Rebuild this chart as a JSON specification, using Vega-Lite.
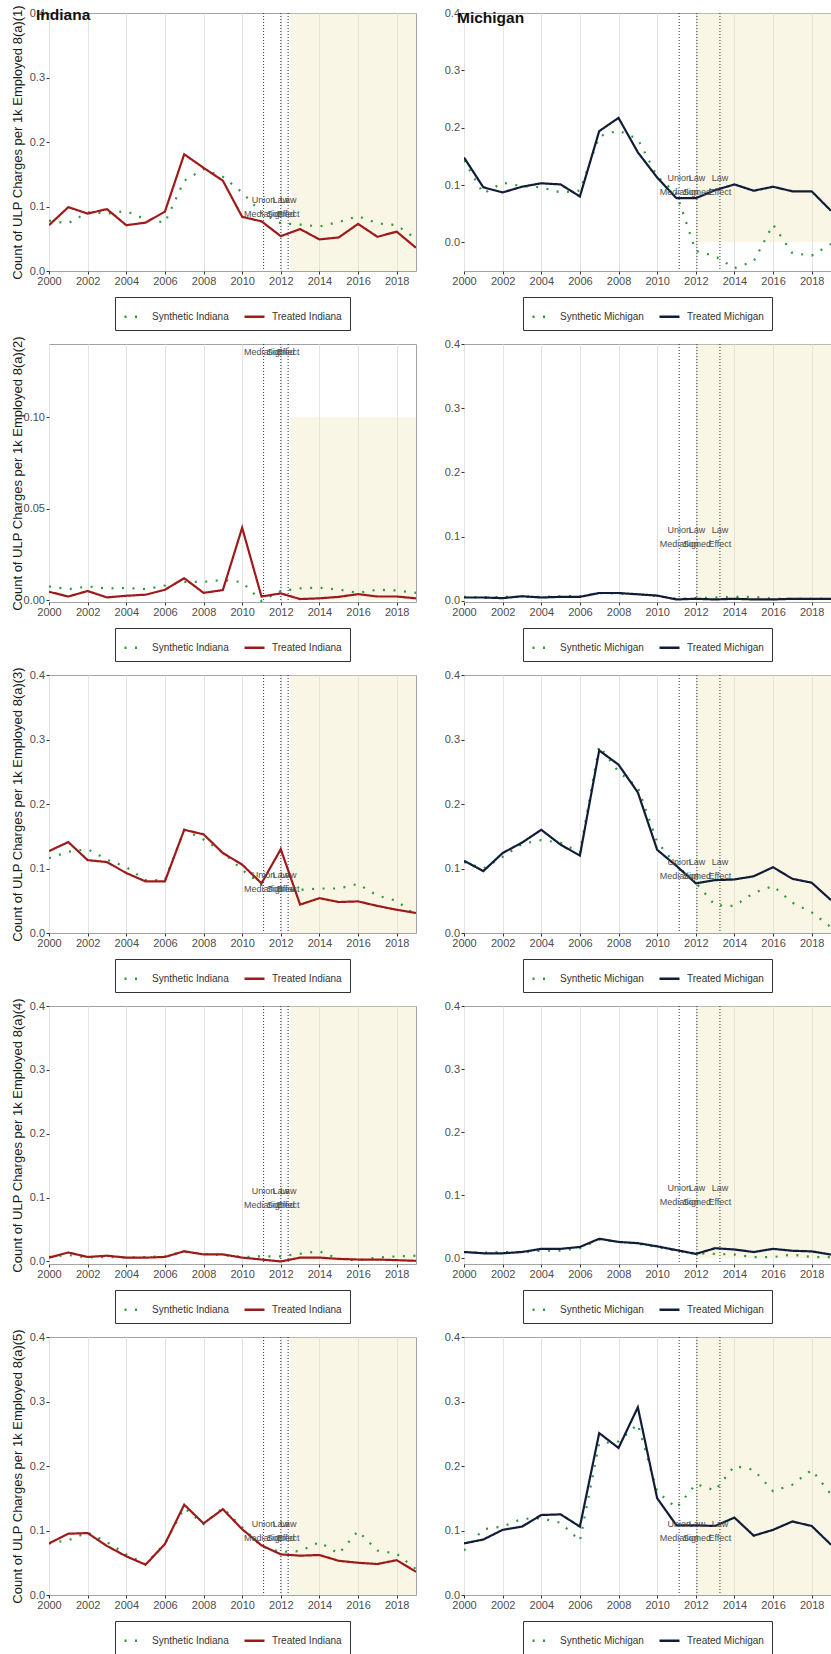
{
  "$schema": "https://vega.github.io/schema/vega-lite/v6.json",
  "background": "white",
  "padding": {"left": 10, "top": 4, "right": 0, "bottom": 0},
  "datasets": {
    "sh": [
      {"st": "Indiana", "x1": 2012.5, "x2": 2019},
      {"st": "Michigan", "x1": 2012.06, "x2": 2019}
    ],
    "ev": [
      {"st": "Indiana", "yr": 2011.11, "lab": "Union\nMediation"},
      {"st": "Indiana", "yr": 2012.0, "lab": "Law\nSigned"},
      {"st": "Indiana", "yr": 2012.38, "lab": "Law\nEffect"},
      {"st": "Michigan", "yr": 2011.14, "lab": "Union\nMediation"},
      {"st": "Michigan", "yr": 2012.06, "lab": "Law\nSigned"},
      {"st": "Michigan", "yr": 2013.25, "lab": "Law\nEffect"}
    ],
    "ts": [
      {"p": "IN1", "yr": 2000, "syn": 0.078, "trt": 0.071},
      {"p": "IN1", "yr": 2001, "syn": 0.074, "trt": 0.099},
      {"p": "IN1", "yr": 2002, "syn": 0.091, "trt": 0.089},
      {"p": "IN1", "yr": 2003, "syn": 0.089, "trt": 0.096},
      {"p": "IN1", "yr": 2004, "syn": 0.093, "trt": 0.071},
      {"p": "IN1", "yr": 2005, "syn": 0.080, "trt": 0.075},
      {"p": "IN1", "yr": 2006, "syn": 0.075, "trt": 0.092},
      {"p": "IN1", "yr": 2007, "syn": 0.140, "trt": 0.181},
      {"p": "IN1", "yr": 2008, "syn": 0.158, "trt": 0.160},
      {"p": "IN1", "yr": 2009, "syn": 0.146, "trt": 0.140},
      {"p": "IN1", "yr": 2010, "syn": 0.122, "trt": 0.084},
      {"p": "IN1", "yr": 2011, "syn": 0.090, "trt": 0.077},
      {"p": "IN1", "yr": 2012, "syn": 0.074, "trt": 0.054},
      {"p": "IN1", "yr": 2013, "syn": 0.072, "trt": 0.065},
      {"p": "IN1", "yr": 2014, "syn": 0.069, "trt": 0.049},
      {"p": "IN1", "yr": 2015, "syn": 0.076, "trt": 0.052},
      {"p": "IN1", "yr": 2016, "syn": 0.085, "trt": 0.073},
      {"p": "IN1", "yr": 2017, "syn": 0.074, "trt": 0.053},
      {"p": "IN1", "yr": 2018, "syn": 0.071, "trt": 0.061},
      {"p": "IN1", "yr": 2019, "syn": 0.050, "trt": 0.036},

      {"p": "MI1", "yr": 2000, "syn": 0.143, "trt": 0.148},
      {"p": "MI1", "yr": 2001, "syn": 0.085, "trt": 0.096},
      {"p": "MI1", "yr": 2002, "syn": 0.104, "trt": 0.087},
      {"p": "MI1", "yr": 2003, "syn": 0.098, "trt": 0.097},
      {"p": "MI1", "yr": 2004, "syn": 0.096, "trt": 0.103},
      {"p": "MI1", "yr": 2005, "syn": 0.087, "trt": 0.101},
      {"p": "MI1", "yr": 2006, "syn": 0.090, "trt": 0.080},
      {"p": "MI1", "yr": 2007, "syn": 0.185, "trt": 0.194},
      {"p": "MI1", "yr": 2008, "syn": 0.195, "trt": 0.217},
      {"p": "MI1", "yr": 2009, "syn": 0.180, "trt": 0.157},
      {"p": "MI1", "yr": 2010, "syn": 0.115, "trt": 0.113},
      {"p": "MI1", "yr": 2011, "syn": 0.085, "trt": 0.077},
      {"p": "MI1", "yr": 2012, "syn": -0.015, "trt": 0.077},
      {"p": "MI1", "yr": 2013, "syn": -0.024, "trt": 0.091},
      {"p": "MI1", "yr": 2014, "syn": -0.045, "trt": 0.101},
      {"p": "MI1", "yr": 2015, "syn": -0.033, "trt": 0.090},
      {"p": "MI1", "yr": 2016, "syn": 0.031, "trt": 0.097},
      {"p": "MI1", "yr": 2017, "syn": -0.019, "trt": 0.089},
      {"p": "MI1", "yr": 2018, "syn": -0.023, "trt": 0.089},
      {"p": "MI1", "yr": 2019, "syn": -0.003, "trt": 0.055},

      {"p": "IN2", "yr": 2000, "syn": 0.0075, "trt": 0.0046},
      {"p": "IN2", "yr": 2001, "syn": 0.0060, "trt": 0.0020},
      {"p": "IN2", "yr": 2002, "syn": 0.0075, "trt": 0.0050},
      {"p": "IN2", "yr": 2003, "syn": 0.0064, "trt": 0.0015},
      {"p": "IN2", "yr": 2004, "syn": 0.0067, "trt": 0.0024},
      {"p": "IN2", "yr": 2005, "syn": 0.0060, "trt": 0.0030},
      {"p": "IN2", "yr": 2006, "syn": 0.0080, "trt": 0.0057},
      {"p": "IN2", "yr": 2007, "syn": 0.0100, "trt": 0.0120},
      {"p": "IN2", "yr": 2008, "syn": 0.0100, "trt": 0.0040},
      {"p": "IN2", "yr": 2009, "syn": 0.0110, "trt": 0.0055},
      {"p": "IN2", "yr": 2010, "syn": 0.0099, "trt": 0.0396},
      {"p": "IN2", "yr": 2011, "syn": -0.0005, "trt": 0.0020},
      {"p": "IN2", "yr": 2012, "syn": 0.0050, "trt": 0.0037},
      {"p": "IN2", "yr": 2013, "syn": 0.0065, "trt": 0.0006},
      {"p": "IN2", "yr": 2014, "syn": 0.0068, "trt": 0.0010},
      {"p": "IN2", "yr": 2015, "syn": 0.0058, "trt": 0.0018},
      {"p": "IN2", "yr": 2016, "syn": 0.0040, "trt": 0.0033},
      {"p": "IN2", "yr": 2017, "syn": 0.0057, "trt": 0.0020},
      {"p": "IN2", "yr": 2018, "syn": 0.0053, "trt": 0.0020},
      {"p": "IN2", "yr": 2019, "syn": 0.0040, "trt": 0.0010},

      {"p": "MI2", "yr": 2000, "syn": 0.006, "trt": 0.005},
      {"p": "MI2", "yr": 2001, "syn": 0.005, "trt": 0.005},
      {"p": "MI2", "yr": 2002, "syn": 0.006, "trt": 0.004},
      {"p": "MI2", "yr": 2003, "syn": 0.006, "trt": 0.007},
      {"p": "MI2", "yr": 2004, "syn": 0.006, "trt": 0.005},
      {"p": "MI2", "yr": 2005, "syn": 0.007, "trt": 0.006},
      {"p": "MI2", "yr": 2006, "syn": 0.007, "trt": 0.006},
      {"p": "MI2", "yr": 2007, "syn": 0.012, "trt": 0.012},
      {"p": "MI2", "yr": 2008, "syn": 0.011, "trt": 0.012},
      {"p": "MI2", "yr": 2009, "syn": 0.010, "trt": 0.010},
      {"p": "MI2", "yr": 2010, "syn": 0.007, "trt": 0.008},
      {"p": "MI2", "yr": 2011, "syn": 0.003, "trt": 0.002},
      {"p": "MI2", "yr": 2012, "syn": 0.004, "trt": 0.003},
      {"p": "MI2", "yr": 2013, "syn": 0.005, "trt": 0.002},
      {"p": "MI2", "yr": 2014, "syn": 0.006, "trt": 0.003},
      {"p": "MI2", "yr": 2015, "syn": 0.006, "trt": 0.002},
      {"p": "MI2", "yr": 2016, "syn": 0.003, "trt": 0.002},
      {"p": "MI2", "yr": 2017, "syn": 0.003, "trt": 0.003},
      {"p": "MI2", "yr": 2018, "syn": 0.003, "trt": 0.003},
      {"p": "MI2", "yr": 2019, "syn": 0.003, "trt": 0.003},

      {"p": "IN3", "yr": 2000, "syn": 0.116, "trt": 0.127},
      {"p": "IN3", "yr": 2001, "syn": 0.126, "trt": 0.141},
      {"p": "IN3", "yr": 2002, "syn": 0.130, "trt": 0.113},
      {"p": "IN3", "yr": 2003, "syn": 0.114, "trt": 0.110},
      {"p": "IN3", "yr": 2004, "syn": 0.102, "trt": 0.093},
      {"p": "IN3", "yr": 2005, "syn": 0.082, "trt": 0.080},
      {"p": "IN3", "yr": 2006, "syn": 0.082, "trt": 0.080},
      {"p": "IN3", "yr": 2007, "syn": 0.160, "trt": 0.160},
      {"p": "IN3", "yr": 2008, "syn": 0.145, "trt": 0.153},
      {"p": "IN3", "yr": 2009, "syn": 0.125, "trt": 0.124},
      {"p": "IN3", "yr": 2010, "syn": 0.098, "trt": 0.106},
      {"p": "IN3", "yr": 2011, "syn": 0.075, "trt": 0.077},
      {"p": "IN3", "yr": 2012, "syn": 0.067, "trt": 0.130},
      {"p": "IN3", "yr": 2013, "syn": 0.067, "trt": 0.044},
      {"p": "IN3", "yr": 2014, "syn": 0.069, "trt": 0.054},
      {"p": "IN3", "yr": 2015, "syn": 0.069, "trt": 0.048},
      {"p": "IN3", "yr": 2016, "syn": 0.076, "trt": 0.049},
      {"p": "IN3", "yr": 2017, "syn": 0.058, "trt": 0.042},
      {"p": "IN3", "yr": 2018, "syn": 0.050, "trt": 0.036},
      {"p": "IN3", "yr": 2019, "syn": 0.027, "trt": 0.031},

      {"p": "MI3", "yr": 2000, "syn": 0.110, "trt": 0.112},
      {"p": "MI3", "yr": 2001, "syn": 0.100, "trt": 0.096},
      {"p": "MI3", "yr": 2002, "syn": 0.118, "trt": 0.124},
      {"p": "MI3", "yr": 2003, "syn": 0.138, "trt": 0.140},
      {"p": "MI3", "yr": 2004, "syn": 0.144, "trt": 0.160},
      {"p": "MI3", "yr": 2005, "syn": 0.140, "trt": 0.137},
      {"p": "MI3", "yr": 2006, "syn": 0.125, "trt": 0.120},
      {"p": "MI3", "yr": 2007, "syn": 0.290, "trt": 0.283},
      {"p": "MI3", "yr": 2008, "syn": 0.250, "trt": 0.261},
      {"p": "MI3", "yr": 2009, "syn": 0.226, "trt": 0.218},
      {"p": "MI3", "yr": 2010, "syn": 0.141, "trt": 0.129},
      {"p": "MI3", "yr": 2011, "syn": 0.105, "trt": 0.104},
      {"p": "MI3", "yr": 2012, "syn": 0.078, "trt": 0.077},
      {"p": "MI3", "yr": 2013, "syn": 0.043, "trt": 0.082},
      {"p": "MI3", "yr": 2014, "syn": 0.042, "trt": 0.083},
      {"p": "MI3", "yr": 2015, "syn": 0.062, "trt": 0.088},
      {"p": "MI3", "yr": 2016, "syn": 0.073, "trt": 0.102},
      {"p": "MI3", "yr": 2017, "syn": 0.047, "trt": 0.084},
      {"p": "MI3", "yr": 2018, "syn": 0.032, "trt": 0.078},
      {"p": "MI3", "yr": 2019, "syn": 0.009, "trt": 0.051},

      {"p": "IN4", "yr": 2000, "syn": 0.007, "trt": 0.006},
      {"p": "IN4", "yr": 2001, "syn": 0.010, "trt": 0.014},
      {"p": "IN4", "yr": 2002, "syn": 0.006, "trt": 0.007},
      {"p": "IN4", "yr": 2003, "syn": 0.007, "trt": 0.009},
      {"p": "IN4", "yr": 2004, "syn": 0.006, "trt": 0.006},
      {"p": "IN4", "yr": 2005, "syn": 0.007, "trt": 0.006},
      {"p": "IN4", "yr": 2006, "syn": 0.008, "trt": 0.007},
      {"p": "IN4", "yr": 2007, "syn": 0.015, "trt": 0.016},
      {"p": "IN4", "yr": 2008, "syn": 0.012, "trt": 0.011},
      {"p": "IN4", "yr": 2009, "syn": 0.010, "trt": 0.011},
      {"p": "IN4", "yr": 2010, "syn": 0.007, "trt": 0.006},
      {"p": "IN4", "yr": 2011, "syn": 0.008, "trt": 0.003},
      {"p": "IN4", "yr": 2012, "syn": 0.008, "trt": 0.000},
      {"p": "IN4", "yr": 2013, "syn": 0.012, "trt": 0.006},
      {"p": "IN4", "yr": 2014, "syn": 0.016, "trt": 0.006},
      {"p": "IN4", "yr": 2015, "syn": 0.004, "trt": 0.004},
      {"p": "IN4", "yr": 2016, "syn": 0.002, "trt": 0.003},
      {"p": "IN4", "yr": 2017, "syn": 0.006, "trt": 0.003},
      {"p": "IN4", "yr": 2018, "syn": 0.008, "trt": 0.002},
      {"p": "IN4", "yr": 2019, "syn": 0.009, "trt": 0.001},

      {"p": "MI4", "yr": 2000, "syn": 0.010, "trt": 0.010},
      {"p": "MI4", "yr": 2001, "syn": 0.009, "trt": 0.008},
      {"p": "MI4", "yr": 2002, "syn": 0.010, "trt": 0.008},
      {"p": "MI4", "yr": 2003, "syn": 0.010, "trt": 0.010},
      {"p": "MI4", "yr": 2004, "syn": 0.012, "trt": 0.015},
      {"p": "MI4", "yr": 2005, "syn": 0.012, "trt": 0.015},
      {"p": "MI4", "yr": 2006, "syn": 0.016, "trt": 0.018},
      {"p": "MI4", "yr": 2007, "syn": 0.030, "trt": 0.031},
      {"p": "MI4", "yr": 2008, "syn": 0.026, "trt": 0.026},
      {"p": "MI4", "yr": 2009, "syn": 0.023, "trt": 0.024},
      {"p": "MI4", "yr": 2010, "syn": 0.018, "trt": 0.019},
      {"p": "MI4", "yr": 2011, "syn": 0.012, "trt": 0.013},
      {"p": "MI4", "yr": 2012, "syn": 0.008, "trt": 0.007},
      {"p": "MI4", "yr": 2013, "syn": 0.007, "trt": 0.016},
      {"p": "MI4", "yr": 2014, "syn": 0.006, "trt": 0.014},
      {"p": "MI4", "yr": 2015, "syn": 0.002, "trt": 0.010},
      {"p": "MI4", "yr": 2016, "syn": 0.002, "trt": 0.015},
      {"p": "MI4", "yr": 2017, "syn": 0.006, "trt": 0.012},
      {"p": "MI4", "yr": 2018, "syn": 0.002, "trt": 0.011},
      {"p": "MI4", "yr": 2019, "syn": 0.002, "trt": 0.006},

      {"p": "IN5", "yr": 2000, "syn": 0.080, "trt": 0.080},
      {"p": "IN5", "yr": 2001, "syn": 0.085, "trt": 0.095},
      {"p": "IN5", "yr": 2002, "syn": 0.097, "trt": 0.096},
      {"p": "IN5", "yr": 2003, "syn": 0.082, "trt": 0.076},
      {"p": "IN5", "yr": 2004, "syn": 0.063, "trt": 0.060},
      {"p": "IN5", "yr": 2005, "syn": 0.048, "trt": 0.047},
      {"p": "IN5", "yr": 2006, "syn": 0.080, "trt": 0.079},
      {"p": "IN5", "yr": 2007, "syn": 0.135, "trt": 0.140},
      {"p": "IN5", "yr": 2008, "syn": 0.110, "trt": 0.111},
      {"p": "IN5", "yr": 2009, "syn": 0.135, "trt": 0.133},
      {"p": "IN5", "yr": 2010, "syn": 0.105, "trt": 0.102},
      {"p": "IN5", "yr": 2011, "syn": 0.075, "trt": 0.077},
      {"p": "IN5", "yr": 2012, "syn": 0.067, "trt": 0.063},
      {"p": "IN5", "yr": 2013, "syn": 0.068, "trt": 0.061},
      {"p": "IN5", "yr": 2014, "syn": 0.082, "trt": 0.062},
      {"p": "IN5", "yr": 2015, "syn": 0.064, "trt": 0.053},
      {"p": "IN5", "yr": 2016, "syn": 0.099, "trt": 0.050},
      {"p": "IN5", "yr": 2017, "syn": 0.069, "trt": 0.048},
      {"p": "IN5", "yr": 2018, "syn": 0.064, "trt": 0.054},
      {"p": "IN5", "yr": 2019, "syn": 0.040, "trt": 0.036},

      {"p": "MI5", "yr": 2000, "syn": 0.069, "trt": 0.080},
      {"p": "MI5", "yr": 2001, "syn": 0.102, "trt": 0.086},
      {"p": "MI5", "yr": 2002, "syn": 0.106, "trt": 0.101},
      {"p": "MI5", "yr": 2003, "syn": 0.118, "trt": 0.106},
      {"p": "MI5", "yr": 2004, "syn": 0.119, "trt": 0.124},
      {"p": "MI5", "yr": 2005, "syn": 0.112, "trt": 0.125},
      {"p": "MI5", "yr": 2006, "syn": 0.084, "trt": 0.106},
      {"p": "MI5", "yr": 2007, "syn": 0.235, "trt": 0.251},
      {"p": "MI5", "yr": 2008, "syn": 0.238, "trt": 0.228},
      {"p": "MI5", "yr": 2009, "syn": 0.265, "trt": 0.291},
      {"p": "MI5", "yr": 2010, "syn": 0.160, "trt": 0.150},
      {"p": "MI5", "yr": 2011, "syn": 0.135, "trt": 0.108},
      {"p": "MI5", "yr": 2012, "syn": 0.172, "trt": 0.108},
      {"p": "MI5", "yr": 2013, "syn": 0.162, "trt": 0.107},
      {"p": "MI5", "yr": 2014, "syn": 0.200, "trt": 0.120},
      {"p": "MI5", "yr": 2015, "syn": 0.194, "trt": 0.092},
      {"p": "MI5", "yr": 2016, "syn": 0.161, "trt": 0.101},
      {"p": "MI5", "yr": 2017, "syn": 0.171, "trt": 0.114},
      {"p": "MI5", "yr": 2018, "syn": 0.194, "trt": 0.107},
      {"p": "MI5", "yr": 2019, "syn": 0.156, "trt": 0.078}
    ]
  },
  "columns": 2,
  "spacing": {"row": 73, "column": 48},
  "bounds": "flush",
  "resolve": {
    "scale": {"x": "independent", "y": "independent", "color": "independent", "strokeDash": "independent"},
    "axis": {"x": "independent", "y": "independent"},
    "legend": {"color": "independent", "strokeDash": "independent"}
  },
  "concat": [
    {
      "width": 367, "height": 258,
      "title": {"text": "Indiana", "anchor": "start", "frame": "group", "offset": -19, "dx": -13, "fontSize": 15.5, "fontWeight": "bold", "color": "#111111"},
      "layer": [
        {"data": {"name": "sh"}, "transform": [{"filter": "datum.st == 'Indiana'"}], "mark": {"type": "rect", "color": "#f0e6b4", "opacity": 0.35}, "encoding": {"x": {"field": "x1", "type": "quantitative"}, "x2": {"field": "x2"}, "y": {"datum": 0}, "y2": {"datum": 0.4}}},
        {"data": {"name": "ev"}, "transform": [{"filter": "datum.st == 'Indiana'"}], "mark": {"type": "rule", "strokeDash": [1, 2], "color": "#333333", "strokeWidth": 1}, "encoding": {"x": {"field": "yr", "type": "quantitative"}}},
        {"data": {"name": "ts"}, "transform": [{"filter": "datum.p == 'IN1'"}, {"fold": ["syn", "trt"], "as": ["s", "v"]}], "mark": {"type": "line", "strokeWidth": 2.2, "clip": true},
          "encoding": {
            "x": {"field": "yr", "type": "quantitative", "scale": {"domain": [2000, 2019], "nice": false, "zero": false}, "axis": {"title": null, "values": [2000,2001,2002,2003,2004,2005,2006,2007,2008,2009,2010,2011,2012,2013,2014,2015,2016,2017,2018,2019], "format": "d", "labelExpr": "datum.value % 2 == 0 ? datum.label : ''", "gridColor": {"condition": {"test": "datum.value % 2 == 0", "value": "#e3e3e3"}, "value": "#f2f2f2"}, "tickOpacity": {"condition": {"test": "datum.value % 2 == 0", "value": 1}, "value": 0}}},
            "y": {"field": "v", "type": "quantitative", "scale": {"domain": [0, 0.4], "nice": false, "zero": false}, "axis": {"title": "Count of ULP Charges per 1k Employed 8(a)(1)", "values": [0,0.05,0.1,0.15,0.2,0.25,0.3,0.35,0.4], "labelExpr": "abs(datum.value*10 - round(datum.value*10)) < 0.001 ? format(datum.value, '.1f') : ''", "gridColor": {"condition": {"test": "abs(datum.value*10 - round(datum.value*10)) < 0.001", "value": "#e3e3e3"}, "value": "#f2f2f2"}, "tickOpacity": {"condition": {"test": "abs(datum.value*10 - round(datum.value*10)) < 0.001", "value": 1}, "value": 0}}},
            "color": {"field": "s", "type": "nominal", "scale": {"domain": ["syn", "trt"], "range": ["#2f9a3a", "#9e1a1a"]}, "legend": {"title": null, "labelExpr": "datum.label == 'syn' ? 'Synthetic Indiana' : 'Treated Indiana'"}},
            "strokeDash": {"field": "s", "type": "nominal", "scale": {"domain": ["syn", "trt"], "range": [[2, 8.5], [1, 0]]}, "legend": {"title": null, "labelExpr": "datum.label == 'syn' ? 'Synthetic Indiana' : 'Treated Indiana'"}}
          }},
        {"data": {"name": "ev"}, "transform": [{"filter": "datum.st == 'Indiana'"}], "mark": {"type": "text", "lineBreak": "\n", "fontSize": 9, "color": "#4d4d4d", "lineHeight": 14, "dy": -7, "clip": true}, "encoding": {"x": {"field": "yr", "type": "quantitative"}, "y": {"datum": 0.1}, "text": {"field": "lab"}}}
      ]
    },
    {
      "width": 367, "height": 258,
      "title": {"text": "Michigan", "anchor": "start", "frame": "group", "offset": -19, "dx": -7, "fontSize": 15.5, "fontWeight": "bold", "color": "#111111"},
      "layer": [
        {"data": {"name": "sh"}, "transform": [{"filter": "datum.st == 'Michigan'"}], "mark": {"type": "rect", "color": "#f0e6b4", "opacity": 0.35}, "encoding": {"x": {"field": "x1", "type": "quantitative"}, "x2": {"field": "x2"}, "y": {"datum": 0}, "y2": {"datum": 0.4}}},
        {"data": {"name": "ev"}, "transform": [{"filter": "datum.st == 'Michigan'"}], "mark": {"type": "rule", "strokeDash": [1, 2], "color": "#333333", "strokeWidth": 1}, "encoding": {"x": {"field": "yr", "type": "quantitative"}}},
        {"data": {"name": "ts"}, "transform": [{"filter": "datum.p == 'MI1'"}, {"fold": ["syn", "trt"], "as": ["s", "v"]}], "mark": {"type": "line", "strokeWidth": 2.2, "clip": true},
          "encoding": {
            "x": {"field": "yr", "type": "quantitative", "scale": {"domain": [2000, 2019], "nice": false, "zero": false}, "axis": {"title": null, "values": [2000,2001,2002,2003,2004,2005,2006,2007,2008,2009,2010,2011,2012,2013,2014,2015,2016,2017,2018,2019], "format": "d", "labelExpr": "datum.value % 2 == 0 ? datum.label : ''", "gridColor": {"condition": {"test": "datum.value % 2 == 0", "value": "#e3e3e3"}, "value": "#f2f2f2"}, "tickOpacity": {"condition": {"test": "datum.value % 2 == 0", "value": 1}, "value": 0}}},
            "y": {"field": "v", "type": "quantitative", "scale": {"domain": [-0.05, 0.4], "nice": false, "zero": false}, "axis": {"title": null, "values": [0,0.05,0.1,0.15,0.2,0.25,0.3,0.35,0.4], "labelExpr": "abs(datum.value*10 - round(datum.value*10)) < 0.001 ? format(datum.value, '.1f') : ''", "gridColor": {"condition": {"test": "abs(datum.value*10 - round(datum.value*10)) < 0.001", "value": "#e3e3e3"}, "value": "#f2f2f2"}, "tickOpacity": {"condition": {"test": "abs(datum.value*10 - round(datum.value*10)) < 0.001", "value": 1}, "value": 0}}},
            "color": {"field": "s", "type": "nominal", "scale": {"domain": ["syn", "trt"], "range": ["#2f9a3a", "#101c38"]}, "legend": {"title": null, "labelExpr": "datum.label == 'syn' ? 'Synthetic Michigan' : 'Treated Michigan'"}},
            "strokeDash": {"field": "s", "type": "nominal", "scale": {"domain": ["syn", "trt"], "range": [[2, 8.5], [1, 0]]}, "legend": {"title": null, "labelExpr": "datum.label == 'syn' ? 'Synthetic Michigan' : 'Treated Michigan'"}}
          }},
        {"data": {"name": "ev"}, "transform": [{"filter": "datum.st == 'Michigan'"}], "mark": {"type": "text", "lineBreak": "\n", "fontSize": 9, "color": "#4d4d4d", "lineHeight": 14, "dy": -7, "clip": true}, "encoding": {"x": {"field": "yr", "type": "quantitative"}, "y": {"datum": 0.1}, "text": {"field": "lab"}}}
      ]
    },
    {
      "width": 367, "height": 258,
      "layer": [
        {"data": {"name": "sh"}, "transform": [{"filter": "datum.st == 'Indiana'"}], "mark": {"type": "rect", "color": "#f0e6b4", "opacity": 0.35}, "encoding": {"x": {"field": "x1", "type": "quantitative"}, "x2": {"field": "x2"}, "y": {"datum": 0}, "y2": {"datum": 0.1}}},
        {"data": {"name": "ev"}, "transform": [{"filter": "datum.st == 'Indiana'"}], "mark": {"type": "rule", "strokeDash": [1, 2], "color": "#333333", "strokeWidth": 1}, "encoding": {"x": {"field": "yr", "type": "quantitative"}}},
        {"data": {"name": "ts"}, "transform": [{"filter": "datum.p == 'IN2'"}, {"fold": ["syn", "trt"], "as": ["s", "v"]}], "mark": {"type": "line", "strokeWidth": 2.2, "clip": true},
          "encoding": {
            "x": {"field": "yr", "type": "quantitative", "scale": {"domain": [2000, 2019], "nice": false, "zero": false}, "axis": {"title": null, "values": [2000,2001,2002,2003,2004,2005,2006,2007,2008,2009,2010,2011,2012,2013,2014,2015,2016,2017,2018,2019], "format": "d", "labelExpr": "datum.value % 2 == 0 ? datum.label : ''", "gridColor": {"condition": {"test": "datum.value % 2 == 0", "value": "#e3e3e3"}, "value": "#f2f2f2"}, "tickOpacity": {"condition": {"test": "datum.value % 2 == 0", "value": 1}, "value": 0}}},
            "y": {"field": "v", "type": "quantitative", "scale": {"domain": [-0.001, 0.14], "nice": false, "zero": false}, "axis": {"title": "Count of ULP Charges per 1k Employed 8(a)(2)", "values": [0,0.025,0.05,0.075,0.1,0.125], "labelExpr": "abs(datum.value*20 - round(datum.value*20)) < 0.001 ? format(datum.value, '.2f') : ''", "gridColor": {"condition": {"test": "abs(datum.value*20 - round(datum.value*20)) < 0.001", "value": "#e3e3e3"}, "value": "#f2f2f2"}, "tickOpacity": {"condition": {"test": "abs(datum.value*20 - round(datum.value*20)) < 0.001", "value": 1}, "value": 0}}},
            "color": {"field": "s", "type": "nominal", "scale": {"domain": ["syn", "trt"], "range": ["#2f9a3a", "#9e1a1a"]}, "legend": {"title": null, "labelExpr": "datum.label == 'syn' ? 'Synthetic Indiana' : 'Treated Indiana'"}},
            "strokeDash": {"field": "s", "type": "nominal", "scale": {"domain": ["syn", "trt"], "range": [[2, 8.5], [1, 0]]}, "legend": {"title": null, "labelExpr": "datum.label == 'syn' ? 'Synthetic Indiana' : 'Treated Indiana'"}}
          }},
        {"data": {"name": "ev"}, "transform": [{"filter": "datum.st == 'Indiana'"}], "mark": {"type": "text", "lineBreak": "\n", "fontSize": 9, "color": "#4d4d4d", "lineHeight": 14, "dy": -7, "clip": true}, "encoding": {"x": {"field": "yr", "type": "quantitative"}, "y": {"datum": 0.1395}, "text": {"field": "lab"}}}
      ]
    },
    {
      "width": 367, "height": 258,
      "layer": [
        {"data": {"name": "sh"}, "transform": [{"filter": "datum.st == 'Michigan'"}], "mark": {"type": "rect", "color": "#f0e6b4", "opacity": 0.35}, "encoding": {"x": {"field": "x1", "type": "quantitative"}, "x2": {"field": "x2"}, "y": {"datum": 0}, "y2": {"datum": 0.4}}},
        {"data": {"name": "ev"}, "transform": [{"filter": "datum.st == 'Michigan'"}], "mark": {"type": "rule", "strokeDash": [1, 2], "color": "#333333", "strokeWidth": 1}, "encoding": {"x": {"field": "yr", "type": "quantitative"}}},
        {"data": {"name": "ts"}, "transform": [{"filter": "datum.p == 'MI2'"}, {"fold": ["syn", "trt"], "as": ["s", "v"]}], "mark": {"type": "line", "strokeWidth": 2.2, "clip": true},
          "encoding": {
            "x": {"field": "yr", "type": "quantitative", "scale": {"domain": [2000, 2019], "nice": false, "zero": false}, "axis": {"title": null, "values": [2000,2001,2002,2003,2004,2005,2006,2007,2008,2009,2010,2011,2012,2013,2014,2015,2016,2017,2018,2019], "format": "d", "labelExpr": "datum.value % 2 == 0 ? datum.label : ''", "gridColor": {"condition": {"test": "datum.value % 2 == 0", "value": "#e3e3e3"}, "value": "#f2f2f2"}, "tickOpacity": {"condition": {"test": "datum.value % 2 == 0", "value": 1}, "value": 0}}},
            "y": {"field": "v", "type": "quantitative", "scale": {"domain": [-0.002, 0.4], "nice": false, "zero": false}, "axis": {"title": null, "values": [0,0.05,0.1,0.15,0.2,0.25,0.3,0.35,0.4], "labelExpr": "abs(datum.value*10 - round(datum.value*10)) < 0.001 ? format(datum.value, '.1f') : ''", "gridColor": {"condition": {"test": "abs(datum.value*10 - round(datum.value*10)) < 0.001", "value": "#e3e3e3"}, "value": "#f2f2f2"}, "tickOpacity": {"condition": {"test": "abs(datum.value*10 - round(datum.value*10)) < 0.001", "value": 1}, "value": 0}}},
            "color": {"field": "s", "type": "nominal", "scale": {"domain": ["syn", "trt"], "range": ["#2f9a3a", "#101c38"]}, "legend": {"title": null, "labelExpr": "datum.label == 'syn' ? 'Synthetic Michigan' : 'Treated Michigan'"}},
            "strokeDash": {"field": "s", "type": "nominal", "scale": {"domain": ["syn", "trt"], "range": [[2, 8.5], [1, 0]]}, "legend": {"title": null, "labelExpr": "datum.label == 'syn' ? 'Synthetic Michigan' : 'Treated Michigan'"}}
          }},
        {"data": {"name": "ev"}, "transform": [{"filter": "datum.st == 'Michigan'"}], "mark": {"type": "text", "lineBreak": "\n", "fontSize": 9, "color": "#4d4d4d", "lineHeight": 14, "dy": -7, "clip": true}, "encoding": {"x": {"field": "yr", "type": "quantitative"}, "y": {"datum": 0.1}, "text": {"field": "lab"}}}
      ]
    },
    {
      "width": 367, "height": 258,
      "layer": [
        {"data": {"name": "sh"}, "transform": [{"filter": "datum.st == 'Indiana'"}], "mark": {"type": "rect", "color": "#f0e6b4", "opacity": 0.35}, "encoding": {"x": {"field": "x1", "type": "quantitative"}, "x2": {"field": "x2"}, "y": {"datum": 0}, "y2": {"datum": 0.4}}},
        {"data": {"name": "ev"}, "transform": [{"filter": "datum.st == 'Indiana'"}], "mark": {"type": "rule", "strokeDash": [1, 2], "color": "#333333", "strokeWidth": 1}, "encoding": {"x": {"field": "yr", "type": "quantitative"}}},
        {"data": {"name": "ts"}, "transform": [{"filter": "datum.p == 'IN3'"}, {"fold": ["syn", "trt"], "as": ["s", "v"]}], "mark": {"type": "line", "strokeWidth": 2.2, "clip": true},
          "encoding": {
            "x": {"field": "yr", "type": "quantitative", "scale": {"domain": [2000, 2019], "nice": false, "zero": false}, "axis": {"title": null, "values": [2000,2001,2002,2003,2004,2005,2006,2007,2008,2009,2010,2011,2012,2013,2014,2015,2016,2017,2018,2019], "format": "d", "labelExpr": "datum.value % 2 == 0 ? datum.label : ''", "gridColor": {"condition": {"test": "datum.value % 2 == 0", "value": "#e3e3e3"}, "value": "#f2f2f2"}, "tickOpacity": {"condition": {"test": "datum.value % 2 == 0", "value": 1}, "value": 0}}},
            "y": {"field": "v", "type": "quantitative", "scale": {"domain": [0, 0.4], "nice": false, "zero": false}, "axis": {"title": "Count of ULP Charges per 1k Employed 8(a)(3)", "values": [0,0.05,0.1,0.15,0.2,0.25,0.3,0.35,0.4], "labelExpr": "abs(datum.value*10 - round(datum.value*10)) < 0.001 ? format(datum.value, '.1f') : ''", "gridColor": {"condition": {"test": "abs(datum.value*10 - round(datum.value*10)) < 0.001", "value": "#e3e3e3"}, "value": "#f2f2f2"}, "tickOpacity": {"condition": {"test": "abs(datum.value*10 - round(datum.value*10)) < 0.001", "value": 1}, "value": 0}}},
            "color": {"field": "s", "type": "nominal", "scale": {"domain": ["syn", "trt"], "range": ["#2f9a3a", "#9e1a1a"]}, "legend": {"title": null, "labelExpr": "datum.label == 'syn' ? 'Synthetic Indiana' : 'Treated Indiana'"}},
            "strokeDash": {"field": "s", "type": "nominal", "scale": {"domain": ["syn", "trt"], "range": [[2, 8.5], [1, 0]]}, "legend": {"title": null, "labelExpr": "datum.label == 'syn' ? 'Synthetic Indiana' : 'Treated Indiana'"}}
          }},
        {"data": {"name": "ev"}, "transform": [{"filter": "datum.st == 'Indiana'"}], "mark": {"type": "text", "lineBreak": "\n", "fontSize": 9, "color": "#4d4d4d", "lineHeight": 14, "dy": -7, "clip": true}, "encoding": {"x": {"field": "yr", "type": "quantitative"}, "y": {"datum": 0.079}, "text": {"field": "lab"}}}
      ]
    },
    {
      "width": 367, "height": 258,
      "layer": [
        {"data": {"name": "sh"}, "transform": [{"filter": "datum.st == 'Michigan'"}], "mark": {"type": "rect", "color": "#f0e6b4", "opacity": 0.35}, "encoding": {"x": {"field": "x1", "type": "quantitative"}, "x2": {"field": "x2"}, "y": {"datum": 0}, "y2": {"datum": 0.4}}},
        {"data": {"name": "ev"}, "transform": [{"filter": "datum.st == 'Michigan'"}], "mark": {"type": "rule", "strokeDash": [1, 2], "color": "#333333", "strokeWidth": 1}, "encoding": {"x": {"field": "yr", "type": "quantitative"}}},
        {"data": {"name": "ts"}, "transform": [{"filter": "datum.p == 'MI3'"}, {"fold": ["syn", "trt"], "as": ["s", "v"]}], "mark": {"type": "line", "strokeWidth": 2.2, "clip": true},
          "encoding": {
            "x": {"field": "yr", "type": "quantitative", "scale": {"domain": [2000, 2019], "nice": false, "zero": false}, "axis": {"title": null, "values": [2000,2001,2002,2003,2004,2005,2006,2007,2008,2009,2010,2011,2012,2013,2014,2015,2016,2017,2018,2019], "format": "d", "labelExpr": "datum.value % 2 == 0 ? datum.label : ''", "gridColor": {"condition": {"test": "datum.value % 2 == 0", "value": "#e3e3e3"}, "value": "#f2f2f2"}, "tickOpacity": {"condition": {"test": "datum.value % 2 == 0", "value": 1}, "value": 0}}},
            "y": {"field": "v", "type": "quantitative", "scale": {"domain": [0, 0.4], "nice": false, "zero": false}, "axis": {"title": null, "values": [0,0.05,0.1,0.15,0.2,0.25,0.3,0.35,0.4], "labelExpr": "abs(datum.value*10 - round(datum.value*10)) < 0.001 ? format(datum.value, '.1f') : ''", "gridColor": {"condition": {"test": "abs(datum.value*10 - round(datum.value*10)) < 0.001", "value": "#e3e3e3"}, "value": "#f2f2f2"}, "tickOpacity": {"condition": {"test": "abs(datum.value*10 - round(datum.value*10)) < 0.001", "value": 1}, "value": 0}}},
            "color": {"field": "s", "type": "nominal", "scale": {"domain": ["syn", "trt"], "range": ["#2f9a3a", "#101c38"]}, "legend": {"title": null, "labelExpr": "datum.label == 'syn' ? 'Synthetic Michigan' : 'Treated Michigan'"}},
            "strokeDash": {"field": "s", "type": "nominal", "scale": {"domain": ["syn", "trt"], "range": [[2, 8.5], [1, 0]]}, "legend": {"title": null, "labelExpr": "datum.label == 'syn' ? 'Synthetic Michigan' : 'Treated Michigan'"}}
          }},
        {"data": {"name": "ev"}, "transform": [{"filter": "datum.st == 'Michigan'"}], "mark": {"type": "text", "lineBreak": "\n", "fontSize": 9, "color": "#4d4d4d", "lineHeight": 14, "dy": -7, "clip": true}, "encoding": {"x": {"field": "yr", "type": "quantitative"}, "y": {"datum": 0.1}, "text": {"field": "lab"}}}
      ]
    },
    {
      "width": 367, "height": 258,
      "layer": [
        {"data": {"name": "sh"}, "transform": [{"filter": "datum.st == 'Indiana'"}], "mark": {"type": "rect", "color": "#f0e6b4", "opacity": 0.35}, "encoding": {"x": {"field": "x1", "type": "quantitative"}, "x2": {"field": "x2"}, "y": {"datum": 0}, "y2": {"datum": 0.4}}},
        {"data": {"name": "ev"}, "transform": [{"filter": "datum.st == 'Indiana'"}], "mark": {"type": "rule", "strokeDash": [1, 2], "color": "#333333", "strokeWidth": 1}, "encoding": {"x": {"field": "yr", "type": "quantitative"}}},
        {"data": {"name": "ts"}, "transform": [{"filter": "datum.p == 'IN4'"}, {"fold": ["syn", "trt"], "as": ["s", "v"]}], "mark": {"type": "line", "strokeWidth": 2.2, "clip": true},
          "encoding": {
            "x": {"field": "yr", "type": "quantitative", "scale": {"domain": [2000, 2019], "nice": false, "zero": false}, "axis": {"title": null, "values": [2000,2001,2002,2003,2004,2005,2006,2007,2008,2009,2010,2011,2012,2013,2014,2015,2016,2017,2018,2019], "format": "d", "labelExpr": "datum.value % 2 == 0 ? datum.label : ''", "gridColor": {"condition": {"test": "datum.value % 2 == 0", "value": "#e3e3e3"}, "value": "#f2f2f2"}, "tickOpacity": {"condition": {"test": "datum.value % 2 == 0", "value": 1}, "value": 0}}},
            "y": {"field": "v", "type": "quantitative", "scale": {"domain": [-0.004, 0.4], "nice": false, "zero": false}, "axis": {"title": "Count of ULP Charges per 1k Employed 8(a)(4)", "values": [0,0.05,0.1,0.15,0.2,0.25,0.3,0.35,0.4], "labelExpr": "abs(datum.value*10 - round(datum.value*10)) < 0.001 ? format(datum.value, '.1f') : ''", "gridColor": {"condition": {"test": "abs(datum.value*10 - round(datum.value*10)) < 0.001", "value": "#e3e3e3"}, "value": "#f2f2f2"}, "tickOpacity": {"condition": {"test": "abs(datum.value*10 - round(datum.value*10)) < 0.001", "value": 1}, "value": 0}}},
            "color": {"field": "s", "type": "nominal", "scale": {"domain": ["syn", "trt"], "range": ["#2f9a3a", "#9e1a1a"]}, "legend": {"title": null, "labelExpr": "datum.label == 'syn' ? 'Synthetic Indiana' : 'Treated Indiana'"}},
            "strokeDash": {"field": "s", "type": "nominal", "scale": {"domain": ["syn", "trt"], "range": [[2, 8.5], [1, 0]]}, "legend": {"title": null, "labelExpr": "datum.label == 'syn' ? 'Synthetic Indiana' : 'Treated Indiana'"}}
          }},
        {"data": {"name": "ev"}, "transform": [{"filter": "datum.st == 'Indiana'"}], "mark": {"type": "text", "lineBreak": "\n", "fontSize": 9, "color": "#4d4d4d", "lineHeight": 14, "dy": -7, "clip": true}, "encoding": {"x": {"field": "yr", "type": "quantitative"}, "y": {"datum": 0.1}, "text": {"field": "lab"}}}
      ]
    },
    {
      "width": 367, "height": 258,
      "layer": [
        {"data": {"name": "sh"}, "transform": [{"filter": "datum.st == 'Michigan'"}], "mark": {"type": "rect", "color": "#f0e6b4", "opacity": 0.35}, "encoding": {"x": {"field": "x1", "type": "quantitative"}, "x2": {"field": "x2"}, "y": {"datum": 0}, "y2": {"datum": 0.4}}},
        {"data": {"name": "ev"}, "transform": [{"filter": "datum.st == 'Michigan'"}], "mark": {"type": "rule", "strokeDash": [1, 2], "color": "#333333", "strokeWidth": 1}, "encoding": {"x": {"field": "yr", "type": "quantitative"}}},
        {"data": {"name": "ts"}, "transform": [{"filter": "datum.p == 'MI4'"}, {"fold": ["syn", "trt"], "as": ["s", "v"]}], "mark": {"type": "line", "strokeWidth": 2.2, "clip": true},
          "encoding": {
            "x": {"field": "yr", "type": "quantitative", "scale": {"domain": [2000, 2019], "nice": false, "zero": false}, "axis": {"title": null, "values": [2000,2001,2002,2003,2004,2005,2006,2007,2008,2009,2010,2011,2012,2013,2014,2015,2016,2017,2018,2019], "format": "d", "labelExpr": "datum.value % 2 == 0 ? datum.label : ''", "gridColor": {"condition": {"test": "datum.value % 2 == 0", "value": "#e3e3e3"}, "value": "#f2f2f2"}, "tickOpacity": {"condition": {"test": "datum.value % 2 == 0", "value": 1}, "value": 0}}},
            "y": {"field": "v", "type": "quantitative", "scale": {"domain": [-0.009, 0.4], "nice": false, "zero": false}, "axis": {"title": null, "values": [0,0.05,0.1,0.15,0.2,0.25,0.3,0.35,0.4], "labelExpr": "abs(datum.value*10 - round(datum.value*10)) < 0.001 ? format(datum.value, '.1f') : ''", "gridColor": {"condition": {"test": "abs(datum.value*10 - round(datum.value*10)) < 0.001", "value": "#e3e3e3"}, "value": "#f2f2f2"}, "tickOpacity": {"condition": {"test": "abs(datum.value*10 - round(datum.value*10)) < 0.001", "value": 1}, "value": 0}}},
            "color": {"field": "s", "type": "nominal", "scale": {"domain": ["syn", "trt"], "range": ["#2f9a3a", "#101c38"]}, "legend": {"title": null, "labelExpr": "datum.label == 'syn' ? 'Synthetic Michigan' : 'Treated Michigan'"}},
            "strokeDash": {"field": "s", "type": "nominal", "scale": {"domain": ["syn", "trt"], "range": [[2, 8.5], [1, 0]]}, "legend": {"title": null, "labelExpr": "datum.label == 'syn' ? 'Synthetic Michigan' : 'Treated Michigan'"}}
          }},
        {"data": {"name": "ev"}, "transform": [{"filter": "datum.st == 'Michigan'"}], "mark": {"type": "text", "lineBreak": "\n", "fontSize": 9, "color": "#4d4d4d", "lineHeight": 14, "dy": -7, "clip": true}, "encoding": {"x": {"field": "yr", "type": "quantitative"}, "y": {"datum": 0.1}, "text": {"field": "lab"}}}
      ]
    },
    {
      "width": 367, "height": 258,
      "layer": [
        {"data": {"name": "sh"}, "transform": [{"filter": "datum.st == 'Indiana'"}], "mark": {"type": "rect", "color": "#f0e6b4", "opacity": 0.35}, "encoding": {"x": {"field": "x1", "type": "quantitative"}, "x2": {"field": "x2"}, "y": {"datum": 0}, "y2": {"datum": 0.4}}},
        {"data": {"name": "ev"}, "transform": [{"filter": "datum.st == 'Indiana'"}], "mark": {"type": "rule", "strokeDash": [1, 2], "color": "#333333", "strokeWidth": 1}, "encoding": {"x": {"field": "yr", "type": "quantitative"}}},
        {"data": {"name": "ts"}, "transform": [{"filter": "datum.p == 'IN5'"}, {"fold": ["syn", "trt"], "as": ["s", "v"]}], "mark": {"type": "line", "strokeWidth": 2.2, "clip": true},
          "encoding": {
            "x": {"field": "yr", "type": "quantitative", "scale": {"domain": [2000, 2019], "nice": false, "zero": false}, "axis": {"title": null, "values": [2000,2001,2002,2003,2004,2005,2006,2007,2008,2009,2010,2011,2012,2013,2014,2015,2016,2017,2018,2019], "format": "d", "labelExpr": "datum.value % 2 == 0 ? datum.label : ''", "gridColor": {"condition": {"test": "datum.value % 2 == 0", "value": "#e3e3e3"}, "value": "#f2f2f2"}, "tickOpacity": {"condition": {"test": "datum.value % 2 == 0", "value": 1}, "value": 0}}},
            "y": {"field": "v", "type": "quantitative", "scale": {"domain": [0, 0.4], "nice": false, "zero": false}, "axis": {"title": "Count of ULP Charges per 1k Employed 8(a)(5)", "values": [0,0.05,0.1,0.15,0.2,0.25,0.3,0.35,0.4], "labelExpr": "abs(datum.value*10 - round(datum.value*10)) < 0.001 ? format(datum.value, '.1f') : ''", "gridColor": {"condition": {"test": "abs(datum.value*10 - round(datum.value*10)) < 0.001", "value": "#e3e3e3"}, "value": "#f2f2f2"}, "tickOpacity": {"condition": {"test": "abs(datum.value*10 - round(datum.value*10)) < 0.001", "value": 1}, "value": 0}}},
            "color": {"field": "s", "type": "nominal", "scale": {"domain": ["syn", "trt"], "range": ["#2f9a3a", "#9e1a1a"]}, "legend": {"title": null, "labelExpr": "datum.label == 'syn' ? 'Synthetic Indiana' : 'Treated Indiana'"}},
            "strokeDash": {"field": "s", "type": "nominal", "scale": {"domain": ["syn", "trt"], "range": [[2, 8.5], [1, 0]]}, "legend": {"title": null, "labelExpr": "datum.label == 'syn' ? 'Synthetic Indiana' : 'Treated Indiana'"}}
          }},
        {"data": {"name": "ev"}, "transform": [{"filter": "datum.st == 'Indiana'"}], "mark": {"type": "text", "lineBreak": "\n", "fontSize": 9, "color": "#4d4d4d", "lineHeight": 14, "dy": -7, "clip": true}, "encoding": {"x": {"field": "yr", "type": "quantitative"}, "y": {"datum": 0.1}, "text": {"field": "lab"}}}
      ]
    },
    {
      "width": 367, "height": 258,
      "layer": [
        {"data": {"name": "sh"}, "transform": [{"filter": "datum.st == 'Michigan'"}], "mark": {"type": "rect", "color": "#f0e6b4", "opacity": 0.35}, "encoding": {"x": {"field": "x1", "type": "quantitative"}, "x2": {"field": "x2"}, "y": {"datum": 0}, "y2": {"datum": 0.4}}},
        {"data": {"name": "ev"}, "transform": [{"filter": "datum.st == 'Michigan'"}], "mark": {"type": "rule", "strokeDash": [1, 2], "color": "#333333", "strokeWidth": 1}, "encoding": {"x": {"field": "yr", "type": "quantitative"}}},
        {"data": {"name": "ts"}, "transform": [{"filter": "datum.p == 'MI5'"}, {"fold": ["syn", "trt"], "as": ["s", "v"]}], "mark": {"type": "line", "strokeWidth": 2.2, "clip": true},
          "encoding": {
            "x": {"field": "yr", "type": "quantitative", "scale": {"domain": [2000, 2019], "nice": false, "zero": false}, "axis": {"title": null, "values": [2000,2001,2002,2003,2004,2005,2006,2007,2008,2009,2010,2011,2012,2013,2014,2015,2016,2017,2018,2019], "format": "d", "labelExpr": "datum.value % 2 == 0 ? datum.label : ''", "gridColor": {"condition": {"test": "datum.value % 2 == 0", "value": "#e3e3e3"}, "value": "#f2f2f2"}, "tickOpacity": {"condition": {"test": "datum.value % 2 == 0", "value": 1}, "value": 0}}},
            "y": {"field": "v", "type": "quantitative", "scale": {"domain": [0, 0.4], "nice": false, "zero": false}, "axis": {"title": null, "values": [0,0.05,0.1,0.15,0.2,0.25,0.3,0.35,0.4], "labelExpr": "abs(datum.value*10 - round(datum.value*10)) < 0.001 ? format(datum.value, '.1f') : ''", "gridColor": {"condition": {"test": "abs(datum.value*10 - round(datum.value*10)) < 0.001", "value": "#e3e3e3"}, "value": "#f2f2f2"}, "tickOpacity": {"condition": {"test": "abs(datum.value*10 - round(datum.value*10)) < 0.001", "value": 1}, "value": 0}}},
            "color": {"field": "s", "type": "nominal", "scale": {"domain": ["syn", "trt"], "range": ["#2f9a3a", "#101c38"]}, "legend": {"title": null, "labelExpr": "datum.label == 'syn' ? 'Synthetic Michigan' : 'Treated Michigan'"}},
            "strokeDash": {"field": "s", "type": "nominal", "scale": {"domain": ["syn", "trt"], "range": [[2, 8.5], [1, 0]]}, "legend": {"title": null, "labelExpr": "datum.label == 'syn' ? 'Synthetic Michigan' : 'Treated Michigan'"}}
          }},
        {"data": {"name": "ev"}, "transform": [{"filter": "datum.st == 'Michigan'"}], "mark": {"type": "text", "lineBreak": "\n", "fontSize": 9, "color": "#4d4d4d", "lineHeight": 14, "dy": -7, "clip": true}, "encoding": {"x": {"field": "yr", "type": "quantitative"}, "y": {"datum": 0.1}, "text": {"field": "lab"}}}
      ]
    }
  ],
  "config": {
    "font": "Liberation Sans",
    "view": {"stroke": "#a3a3a3", "strokeWidth": 1},
    "axis": {"labelFontSize": 11, "labelColor": "#4d4d4d", "tickColor": "#333333", "tickSize": 3, "labelPadding": 1.5, "domain": false, "labelFlush": false, "labelOverlap": false, "titleFontSize": 13, "titleFontWeight": "normal", "titleColor": "#1a1a1a", "gridWidth": 1},
    "axisY": {"titleX": -25},
    "legend": {"orient": "bottom", "direction": "horizontal", "strokeColor": "#333333", "padding": 8, "labelFontSize": 10, "labelColor": "#333333", "symbolSize": 400, "symbolStrokeWidth": 2.3, "columnPadding": 10, "labelOffset": 6, "offset": 10, "layout": {"bottom": {"anchor": "middle"}}},
    "title": {"font": "Liberation Sans"}
  }
}
